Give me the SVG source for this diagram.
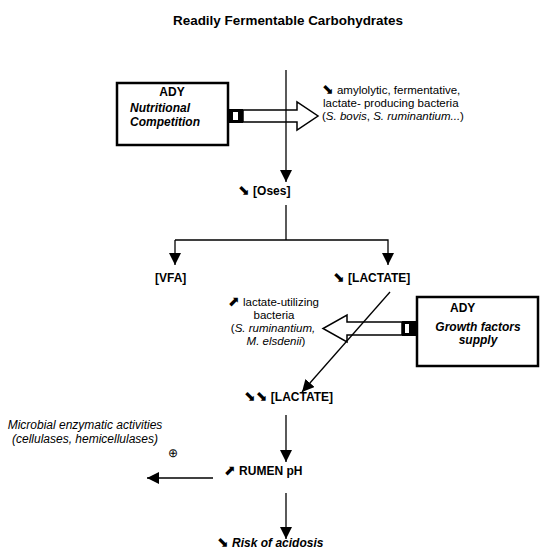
<svg xmlns="http://www.w3.org/2000/svg" width="545" height="560" viewBox="0 0 545 560">
<style>
text{font-family:"Liberation Sans",Arial,sans-serif;fill:#000;font-size:12px}
.m{font-size:11.5px}
.b{font-weight:bold}
.i{font-style:italic}
.bi{font-weight:bold;font-style:italic}
.sym{font-family:"DejaVu Sans",sans-serif;font-size:14px;font-weight:normal;font-style:normal}
.box{fill:#fff;stroke:#000;stroke-width:2.5}
.hollow{fill:#fff;stroke:#000;stroke-width:1.5}
.ln{fill:none;stroke:#000;stroke-width:1.3}
</style>
<defs>
<marker id="ah" markerUnits="userSpaceOnUse" markerWidth="14" markerHeight="12" refX="12" refY="6" orient="auto">
<path d="M0,0 L12,6 L0,12 Z" fill="#000"/>
</marker>
</defs>
<rect width="545" height="560" fill="#fff"/>
<text id="title" class="b" x="173" y="25" font-size="14" textLength="230" lengthAdjust="spacingAndGlyphs">Readily Fermentable Carbohydrates</text>

<g id="ady1">
<rect class="box" x="117" y="83" width="111" height="62"/>
<text class="b" x="172" y="96" text-anchor="middle">ADY</text>
<text class="bi" x="130" y="112">Nutritional</text>
<text class="bi" x="130" y="126">Competition</text>
</g>
<g id="arrow1">
<polygon class="hollow" points="243,110 297,110 297,102 318,116 297,130 297,122 243,122"/>
<rect x="229" y="109" width="14" height="14" fill="#000"/>
<rect x="233" y="112" width="5" height="8" fill="#fff"/>
</g>
<g id="bact1">
<text class="m" x="322" y="94"><tspan class="sym" font-size="12">⬊</tspan> amylolytic, fermentative,</text>
<text class="m" x="323" y="107">lactate- producing bacteria</text>
<text class="m" x="322" y="120">(<tspan class="i">S. bovis</tspan>, <tspan class="i">S. ruminantium...</tspan>)</text>
</g>

<g id="ady2">
<rect class="box" x="417" y="297" width="121" height="69"/>
<text class="b" x="450" y="312">ADY</text>
<text class="bi" x="478" y="331" text-anchor="middle">Growth factors</text>
<text class="bi" x="478" y="344" text-anchor="middle">supply</text>
</g>
<g id="arrow2">
<polygon class="hollow" points="402,322 347,322 347,315 323,328.5 347,342 347,335 402,335"/>
<rect x="402" y="321" width="15" height="15" fill="#000"/>
<rect x="405" y="324" width="4" height="9" fill="#fff"/>
</g>
<g id="bact2">
<text class="m" x="228" y="306"><tspan class="sym" font-size="12">⬈</tspan> lactate-utilizing</text>
<text class="m" x="274" y="319" text-anchor="middle">bacteria</text>
<text class="m" x="273" y="332" text-anchor="middle">(<tspan class="i">S. ruminantium,</tspan></text>
<text class="m" x="276" y="345" text-anchor="middle"><tspan class="i">M. elsdenii</tspan>)</text>
</g>

<g id="connectors">
<line class="ln" x1="286" y1="70" x2="286" y2="182" marker-end="url(#ah)"/>
<polyline class="ln" points="286,205 286,240"/>
<polyline class="ln" points="175,240 388,240 388,265" marker-end="url(#ah)"/>
<line class="ln" x1="175" y1="240" x2="175" y2="265" marker-end="url(#ah)"/>
<line class="ln" x1="390" y1="292" x2="302" y2="392" marker-end="url(#ah)"/>
<line class="ln" x1="286" y1="415" x2="286" y2="462" marker-end="url(#ah)"/>
<line class="ln" x1="213" y1="478" x2="147" y2="478" marker-end="url(#ah)"/>
<line class="ln" x1="286" y1="493" x2="286" y2="539" marker-end="url(#ah)"/>
</g>

<g id="oses"><text class="b" x="238" y="195"><tspan class="sym">⬊</tspan> [Oses]</text></g>
<g id="vfa"><text class="b" x="155" y="282">[VFA]</text></g>
<g id="lactate1"><text class="b" x="333" y="282"><tspan class="sym">⬊</tspan> [LACTATE]</text></g>
<g id="lactate2"><text class="b" x="244" y="401"><tspan class="sym">⬊</tspan><tspan class="sym">⬊</tspan> [LACTATE]</text></g>
<g id="microbial">
<text class="i" x="85" y="429" text-anchor="middle">Microbial enzymatic activities</text>
<text class="i" x="85" y="443" text-anchor="middle">(cellulases, hemicellulases)</text>
<text x="173" y="457" text-anchor="middle" font-family="DejaVu Sans" font-size="9">⊕</text>
</g>
<g id="rumen"><text class="b" x="224" y="475"><tspan class="sym">⬈</tspan> RUMEN pH</text></g>
<g id="risk"><text class="bi" x="217" y="547"><tspan class="sym">⬊</tspan> Risk of acidosis</text></g>
</svg>
